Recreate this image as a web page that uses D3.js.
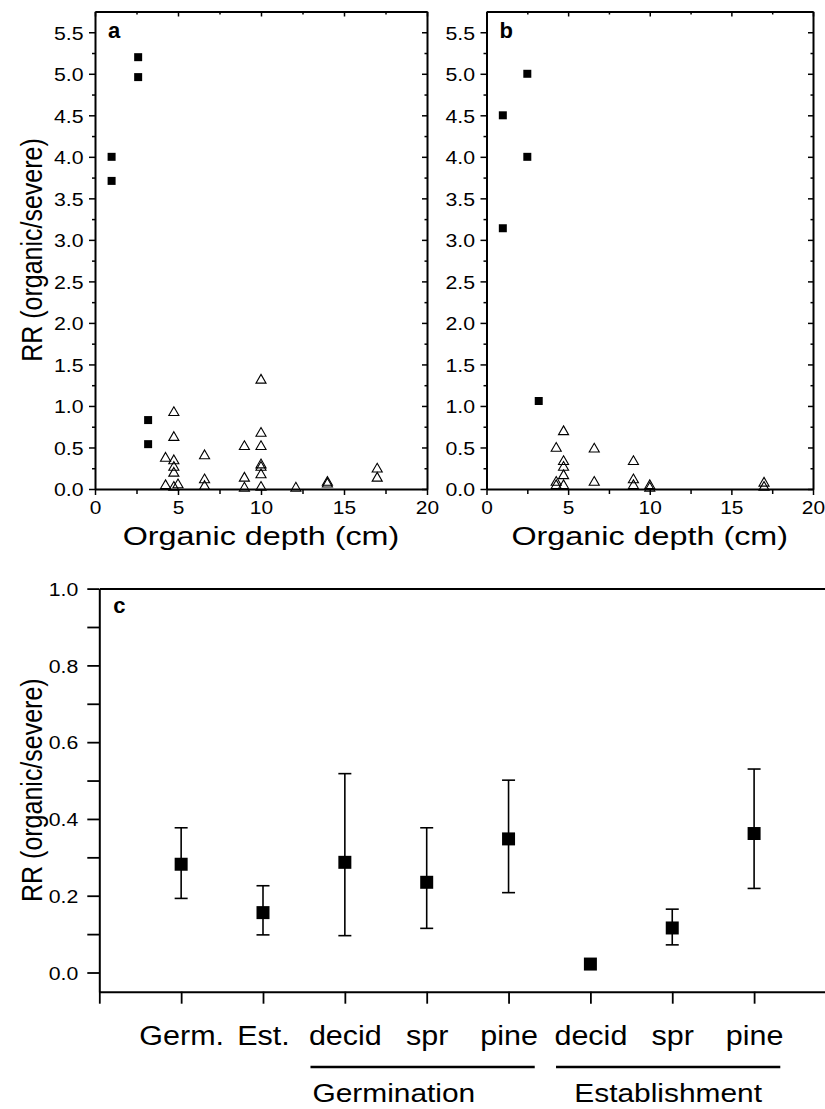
<!DOCTYPE html>
<html><head><meta charset="utf-8">
<script src="https://cdn.jsdelivr.net/npm/d3@7"></script>
<style>
body{margin:0;background:#fff;}
svg text{font-family:"Liberation Sans",Arial,Helvetica,sans-serif;fill:#000;}
</style></head><body>
<svg id="chart" width="825" height="1109"></svg>
<script>
// ---------------- data ----------------
// panel a
const aSquareX = [1.0, 1.0, 2.6, 2.6, 3.2, 3.2];
const aSquareY = [4.0, 3.71, 5.2, 4.96, 0.83, 0.54];
const aTriX = [4.75,4.75,4.75,4.75,4.75,4.75, 4.25,4.25, 5.0, 6.6,6.6,6.6, 9.0,9.0,9.0, 10,10,10,10,10,10,10, 12.1, 14,14, 17,17];
const aTriY = [0.92,0.62,0.34,0.26,0.19,0.02, 0.37,0.04, 0.05, 0.40,0.11,0.03, 0.51,0.13,0.01, 1.31,0.67,0.51,0.29,0.26,0.17,0.02, 0.01, 0.08,0.06, 0.24,0.13];
// panel b
const bSquareX = [1.0, 1.0, 2.5, 2.5, 3.2];
const bSquareY = [4.5, 3.14, 5.0, 4.0, 1.06];
const bTriX = [4.72,4.72,4.72,4.72,4.72, 4.27,4.27,4.27, 6.6,6.6, 9.0,9.0,9.0, 10,10, 17,17];
const bTriY = [0.69,0.33,0.26,0.16,0.04, 0.49,0.08,0.04, 0.48,0.08, 0.33,0.11,0.04, 0.04,0.01, 0.07,0.02];
// axes a/b
const yTicksAB = [0,0.5,1,1.5,2,2.5,3,3.5,4,4.5,5,5.5];
const yTickLabelsAB = ["0.0","0.5","1.0","1.5","2.0","2.5","3.0","3.5","4.0","4.5","5.0","5.5"];
const yMinorAB = [0.25,0.75,1.25,1.75,2.25,2.75,3.25,3.75,4.25,4.75,5.25];
const xTicksAB = [0,5,10,15,20];
const xTickLabelsAB = ["0","5","10","15","20"];
const xMinorAB = [2.5,7.5,12.5,17.5];
// panel c
const catPos = [1,2,3,4,5,6,7,8];
const catLabels = ["Germ.","Est.","decid","spr","pine","decid","spr","pine"];
const catMean = [0.282,0.156,0.287,0.235,0.348,0.022,0.116,0.362];
const catLow  = [0.193,0.098,0.096,0.115,0.208,null,0.072,0.219];
const catHigh = [0.377,0.226,0.518,0.377,0.501,null,0.165,0.530];
const yTicksC = [0,0.1,0.2,0.3,0.4,0.5,0.6,0.7,0.8,0.9,1.0];
const yTickLabelsC = ["0.0","","0.2","","0.4","","0.6","","0.8","","1.0"];
const groupNames = ["Germination","Establishment"];
const groupStart = [3,6];
const groupEnd = [5,8];

// ---------------- drawing ----------------
const svg = d3.select("#chart");
svg.append("rect").attr("width",825).attr("height",1109).attr("fill","#fff");

function styleAxis(g, domainW, tickW){
  g.attr("font-size",null).attr("font-family",null);
  g.select(".domain").attr("stroke","#000").attr("stroke-width",domainW);
  g.selectAll(".tick line").attr("stroke","#000").attr("stroke-width",tickW);
}
function leftLabels(g, gap, fs, sx){
  g.selectAll(".tick text").attr("x",null).attr("dy",null)
    .style("font-size",fs+"px")
    .attr("transform",`translate(${-gap},${(fs*0.36).toFixed(1)}) scale(${sx},1)`);
}
function bottomLabels(g, off, fs, sx){
  g.selectAll(".tick text").attr("y",null).attr("dy",null)
    .style("font-size",fs+"px")
    .attr("transform",`translate(0,${off}) scale(${sx},1)`);
}
function yTitle(cx, cy, fs){
  svg.append("text").attr("text-anchor","middle").style("font-size",fs+"px")
    .attr("transform",`translate(${cx},${cy}) scale(1.15,1) rotate(-90)`)
    .text("RR (organic/severe)");
}

const yAB = d3.scaleLinear().domain([0,5.75]).range([489,11.5]);

function scatterPanel(x0, x1, letter, sqX, sqY, triX, triY){
  const x = d3.scaleLinear().domain([0,20]).range([x0,x1]);
  const g = svg.append("g");
  // left
  const la = g.append("g").attr("transform",`translate(${x0},0)`)
    .call(d3.axisLeft(yAB).tickValues(yTicksAB).tickSize(6).tickSizeOuter(0).tickFormat((d,i)=>yTickLabelsAB[i]));
  styleAxis(la,2,1.5); leftLabels(la,11.5,19,1.12);
  const lm = g.append("g").attr("transform",`translate(${x0},0)`)
    .call(d3.axisLeft(yAB).tickValues(yMinorAB).tickSize(3).tickFormat(""));
  styleAxis(lm,0,1.5); lm.select(".domain").remove();
  // right (inside)
  const ra = g.append("g").attr("transform",`translate(${x1},0)`)
    .call(d3.axisLeft(yAB).tickValues(yTicksAB).tickSize(5).tickSizeOuter(0).tickFormat(""));
  styleAxis(ra,2,1.5);
  const rm = g.append("g").attr("transform",`translate(${x1},0)`)
    .call(d3.axisLeft(yAB).tickValues(yMinorAB).tickSize(2.5).tickFormat(""));
  styleAxis(rm,0,1.5); rm.select(".domain").remove();
  // top (inside)
  const ta = g.append("g").attr("transform",`translate(0,${yAB.range()[1]})`)
    .call(d3.axisBottom(x).tickValues(xTicksAB).tickSize(5).tickSizeOuter(0).tickFormat(""));
  styleAxis(ta,2,1.5);
  const tm = g.append("g").attr("transform",`translate(0,${yAB.range()[1]})`)
    .call(d3.axisBottom(x).tickValues(xMinorAB).tickSize(3).tickFormat(""));
  styleAxis(tm,0,1.5); tm.select(".domain").remove();
  // bottom
  const ba = g.append("g").attr("transform",`translate(0,${yAB.range()[0]})`)
    .call(d3.axisBottom(x).tickValues(xTicksAB).tickSize(6).tickSizeOuter(0).tickFormat((d,i)=>xTickLabelsAB[i]));
  styleAxis(ba,2,1.5); bottomLabels(ba,25,19,1.1);
  const bm = g.append("g").attr("transform",`translate(0,${yAB.range()[0]})`)
    .call(d3.axisBottom(x).tickValues(xMinorAB).tickSize(5).tickFormat(""));
  styleAxis(bm,0,1.5); bm.select(".domain").remove();

  // marks
  const tri = d3.symbol().type(d3.symbolTriangle).size(44);
  g.append("g").selectAll("path").data(triX.map((v,i)=>[v,triY[i]])).join("path")
    .attr("d",tri).attr("transform",d=>`translate(${x(d[0])},${yAB(d[1])})`)
    .attr("fill","none").attr("stroke","#000").attr("stroke-width",1.1);
  const sq = d3.symbol().type(d3.symbolSquare).size(64);
  g.append("g").selectAll("path").data(sqX.map((v,i)=>[v,sqY[i]])).join("path")
    .attr("d",sq).attr("transform",d=>`translate(${x(d[0])},${yAB(d[1])})`)
    .attr("fill","#000");

  // panel letter
  g.append("text").attr("x",x0+13).attr("y",38).style("font-size","22px").style("font-weight","bold").text(letter);
  // x title
  g.append("text").attr("text-anchor","middle")
    .attr("transform",`translate(${(x0+x1)/2},545) scale(1.22,1)`)
    .style("font-size","26.5px").text("Organic depth (cm)");
}

scatterPanel(95, 427, "a", aSquareX, aSquareY, aTriX, aTriY);
scatterPanel(486.5, 813, "b", bSquareX, bSquareY, bTriX, bTriY);
yTitle(42, 250, 25);

// ---------------- panel c ----------------
const xC = d3.scaleLinear().domain([0,9]).range([99.3, 99.3+9*81.85]);
const yC = d3.scaleLinear().domain([-0.05,1.0]).range([991.7,588.6]);
const gc = svg.append("g");
const cl = gc.append("g").attr("transform",`translate(${xC(0)},0)`)
  .call(d3.axisLeft(yC).tickValues(yTicksC).tickSize(12).tickSizeOuter(0).tickFormat((d,i)=>yTickLabelsC[i]));
styleAxis(cl,2,1.8); leftLabels(cl,21,19,1.12);
const ct = gc.append("g").attr("transform",`translate(0,${yC.range()[1]})`)
  .call(d3.axisTop(xC).tickValues([]).tickSizeOuter(0));
styleAxis(ct,2,1.8);
const cb = gc.append("g").attr("transform",`translate(0,${yC.range()[0]})`)
  .call(d3.axisBottom(xC).tickValues([0].concat(catPos)).tickSize(12).tickSizeOuter(0)
    .tickFormat(d=> d===0 ? "" : catLabels[catPos.indexOf(d)]));
styleAxis(cb,2,1.8); bottomLabels(cb,53,27,1.13);

// error bars
const eb = catPos.map((p,i)=>({p, m:catMean[i], lo:catLow[i], hi:catHigh[i]})).filter(d=>d.lo!==null);
gc.append("g").selectAll("line.v").data(eb).join("line")
  .attr("x1",d=>xC(d.p)).attr("x2",d=>xC(d.p)).attr("y1",d=>yC(d.lo)).attr("y2",d=>yC(d.hi))
  .attr("stroke","#000").attr("stroke-width",1.6);
["lo","hi"].forEach(k=>{
  gc.append("g").selectAll("line").data(eb).join("line")
    .attr("x1",d=>xC(d.p)-6.5).attr("x2",d=>xC(d.p)+6.5).attr("y1",d=>yC(d[k])).attr("y2",d=>yC(d[k]))
    .attr("stroke","#000").attr("stroke-width",1.6);
});
const sqC = d3.symbol().type(d3.symbolSquare).size(169);
gc.append("g").selectAll("path").data(catPos.map((p,i)=>[p,catMean[i]])).join("path")
  .attr("d",sqC).attr("transform",d=>`translate(${xC(d[0])},${yC(d[1])})`).attr("fill","#000");

gc.append("text").attr("x",xC(0)+14).attr("y",613).style("font-size","22px").style("font-weight","bold").text("c");
yTitle(42, (yC.range()[0]+yC.range()[1])/2, 25);

// group underlines + labels
groupNames.forEach((name,i)=>{
  const a = xC(groupStart[i]-0.42), b = xC(groupEnd[i]+0.32);
  gc.append("line").attr("x1",a).attr("x2",b).attr("y1",1067).attr("y2",1067)
    .attr("stroke","#000").attr("stroke-width",2.5);
  const t = gc.append("text").style("font-size","26px").text(name);
  if (i === 0) t.attr("text-anchor","start").attr("transform",`translate(${a+2},1102) scale(1.15,1)`);
  else t.attr("text-anchor","middle").attr("transform",`translate(${(a+b)/2},1102) scale(1.15,1)`);
});
</script>
</body></html>
